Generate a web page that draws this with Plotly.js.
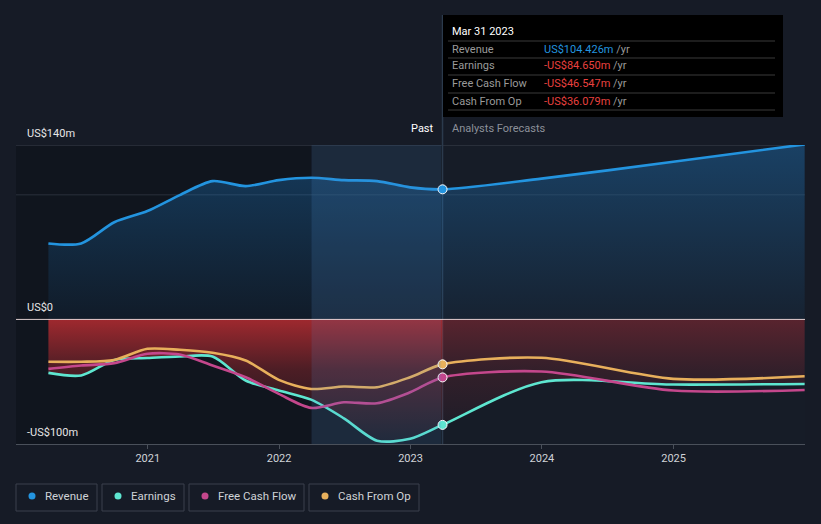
<!DOCTYPE html>
<html><head><meta charset="utf-8">
<script src="https://cdn.plot.ly/plotly-3.0.1.min.js"></script>
<style>html,body{margin:0;padding:0;background:#151a25;}#chart{width:821px;height:524px;}</style>
</head><body><div id="chart"></div><script>
// ---- data (US$ m) ----
const pastDates = ['2020-03-31','2020-06-30','2020-09-30','2020-12-31','2021-03-31','2021-06-30','2021-09-30','2021-12-31','2022-03-31','2022-06-30','2022-09-30','2022-12-31','2023-03-31'];
const revenuePast  = [61, 61, 78, 87, 99.8, 111, 107, 111.8, 113.7, 111.8, 111, 106, 104.426];
const earningsPast = [-42.9, -45, -32.5, -31, -29.8, -29.8, -49, -57, -64.4, -79.4, -97.3, -95.8, -84.65];
const fcfPast      = [-39.7, -37, -35.1, -27.6, -28.2, -37, -46.4, -59.8, -71, -66.5, -67.3, -58.5, -46.547];
const cfoPast      = [-34, -34, -32.5, -23.6, -24.4, -26.8, -33, -48.5, -55.8, -53.9, -54.4, -46.4, -36.079];
const forecastDates = ['2023-03-31','2023-12-31','2024-12-31','2025-12-31'];
const revenueFc  = [104.426, 113, 126.5, 140.5];
const earningsFc = [-84.65, -50.4, -52.3, -51.8];
const fcfFc      = [-46.547, -41.8, -57.1, -56.6];
const cfoFc      = [-36.079, -30.8, -47.7, -45.6];
const seriesNames = ['Revenue','Earnings','Free Cash Flow','Cash From Op'];
const seriesColors = ['#2394df','#5ee6d0','#c4478c','#e8b05c'];
const tooltipDate = 'Mar 31 2023';
const tooltipValues = ['US$104.426m','-US$84.650m','-US$46.547m','-US$36.079m'];
const yTickLabels = [['US$140m',140],['US$0',0],['-US$100m',-100]];
const xTickVals = ['2021-01-01','2022-01-01','2023-01-01','2024-01-01','2025-01-01'];
const xTickText = ['2021','2022','2023','2024','2025'];

// ---- helpers (pixel -> paper) ----
const L=16, R=805, T=145, B=444;
const P = x => (x-L)/(R-L);
const Q = y => (B-y)/(B-T);

const allDates = pastDates.concat(forecastDates.slice(1));
const full = (a,b) => a.concat(b.slice(1));
const SM = 0.8;
const traces = [];
// revenue fill
traces.push({x:allDates, y:full(revenuePast,revenueFc), type:'scatter', mode:'lines', line:{width:0, shape:'spline', smoothing:SM},
  fill:'tozeroy', fillgradient:{type:'vertical', start:0, stop:140, colorscale:[[0,'rgba(33,150,243,0.05)'],[1,'rgba(33,150,243,0.30)']]}, hoverinfo:'skip', showlegend:false});
// earnings fill past
traces.push({x:pastDates, y:earningsPast, type:'scatter', mode:'lines', line:{width:0, shape:'spline', smoothing:SM},
  fill:'tozeroy', fillgradient:{type:'vertical', start:-100, stop:0, colorscale:[[0,'rgba(190,45,50,0.02)'],[0.6,'rgba(190,45,50,0.35)'],[1,'rgba(190,45,50,0.82)']]}, hoverinfo:'skip', showlegend:false});
// earnings fill forecast
traces.push({x:forecastDates, y:earningsFc, type:'scatter', mode:'lines', line:{width:0, shape:'spline', smoothing:SM},
  fill:'tozeroy', fillgradient:{type:'vertical', start:-100, stop:0, colorscale:[[0,'rgba(170,45,55,0.02)'],[0.6,'rgba(170,45,55,0.2)'],[1,'rgba(170,45,55,0.45)']]}, hoverinfo:'skip', showlegend:false});
const lineData = [[revenuePast,revenueFc],[earningsPast,earningsFc],[fcfPast,fcfFc],[cfoPast,cfoFc]];
[1,2,3,0].forEach(i=>{
  traces.push({x:allDates, y:full(lineData[i][0],lineData[i][1]), type:'scatter', mode:'lines',
    line:{color:seriesColors[i], width:2.6, shape:'spline', smoothing:SM}, hoverinfo:'skip', showlegend:false});
});
// markers at last reported date
traces.push({x:[0,1,2,3].map(()=>pastDates[pastDates.length-1]), y:lineData.map(d=>d[0][d[0].length-1]), type:'scatter', mode:'markers',
  marker:{size:9, color:seriesColors, line:{color:'#ffffff', width:1}}, hoverinfo:'skip', showlegend:false});

const shapes = [];
// darker past area
shapes.push({type:'rect', xref:'x', yref:'paper', x0:'2020-01-01', x1:'2022-04-01', y0:0, y1:1, fillcolor:'rgba(5,8,14,0.35)', line:{width:0}, layer:'below'});
// grid lines
shapes.push({type:'line', xref:'paper', yref:'y', x0:0, x1:1, y0:140, y1:140, line:{color:'#3c434e', width:1}, layer:'below'});
shapes.push({type:'line', xref:'paper', yref:'y', x0:0, x1:1, y0:100, y1:100, line:{color:'#2a313c', width:1}, layer:'below'});
// vertical line at last reported
shapes.push({type:'line', xref:'x', yref:'paper', x0:'2023-03-31', x1:'2023-03-31', y0:0, y1:Q(15), line:{color:'#2b3a4c', width:1.5}, layer:'below'});
// highlight area
shapes.push({type:'rect', xref:'x', yref:'paper', x0:'2022-04-01', x1:'2023-03-27', y0:0, y1:1, fillcolor:'rgba(70,140,210,0.13)', line:{width:0}, layer:'above'});
// zero line
shapes.push({type:'line', xref:'paper', yref:'y', x0:0, x1:1, y0:0, y1:0, line:{color:'rgba(255,235,235,0.85)', width:1}, layer:'above'});
// tooltip box
shapes.push({type:'rect', xref:'paper', yref:'paper', x0:P(443), x1:P(783), y0:Q(117), y1:Q(15), fillcolor:'#000000', line:{width:0}, layer:'above'});
[41,58,75,93,110].forEach(y=>{
  shapes.push({type:'line', xref:'paper', yref:'paper', x0:P(448), x1:P(775), y0:Q(y), y1:Q(y), line:{color:'#3a3a3a', width:1}, layer:'above'});
});
// legend boxes
const legBoxes = [[16,97],[102,184],[189,304],[309,419]];
legBoxes.forEach((b,i)=>{
  shapes.push({type:'rect', xref:'paper', yref:'paper', x0:P(b[0]), x1:P(b[1]), y0:Q(511), y1:Q(484), fillcolor:'rgba(0,0,0,0)', line:{color:'#3a414c', width:1}, layer:'above'});
  const cx=b[0]+16, cy=496;
  shapes.push({type:'circle', xref:'paper', yref:'paper', x0:P(cx-3.5), x1:P(cx+3.5), y0:Q(cy+3.5), y1:Q(cy-3.5), fillcolor:seriesColors[i], line:{width:0}, layer:'above'});
});

const F = 'Roboto, "Open Sans", sans-serif';
const ann = [];
yTickLabels.forEach(t=>{
  ann.push({xref:'paper', yref:'y', x:P(25), y:t[1], yshift:12, text:t[0], showarrow:false, xanchor:'left', yanchor:'middle', font:{family:F, size:11, color:'#e6e6e6'}});
});
ann.push({xref:'paper', yref:'paper', x:P(436), y:Q(128), text:'Past', showarrow:false, xanchor:'right', yanchor:'middle', font:{family:F, size:11, color:'#ffffff'}});
ann.push({xref:'paper', yref:'paper', x:P(450), y:Q(128), text:'Analysts Forecasts', showarrow:false, xanchor:'left', yanchor:'middle', font:{family:F, size:11, color:'#8c9099'}});
ann.push({xref:'paper', yref:'paper', x:P(450), y:Q(31), text:tooltipDate, showarrow:false, xanchor:'left', yanchor:'middle', font:{family:F, size:11, color:'#ffffff'}});
const rowY = [49,66,84,101];
seriesNames.forEach((n,i)=>{
  ann.push({xref:'paper', yref:'paper', x:P(450), y:Q(rowY[i]), text:n, showarrow:false, xanchor:'left', yanchor:'middle', font:{family:F, size:11, color:'#9a9a9a'}});
  const vc = i===0 ? '#2394df' : '#e8403f';
  ann.push({xref:'paper', yref:'paper', x:P(542), y:Q(rowY[i]), text:'<span style="color:'+vc+'">'+tooltipValues[i]+'</span> /yr', showarrow:false, xanchor:'left', yanchor:'middle', font:{family:F, size:11, color:'#9a9a9a'}});
});
legBoxes.forEach((b,i)=>{
  ann.push({xref:'paper', yref:'paper', x:P(b[0]+27), y:Q(496), text:seriesNames[i], showarrow:false, xanchor:'left', yanchor:'middle', font:{family:F, size:11.5, color:'#cfd2d6'}});
});

const layout = {
  width:821, height:524,
  margin:{l:L, r:821-R, t:T, b:524-B},
  paper_bgcolor:'#161b26', plot_bgcolor:'#161c27',
  showlegend:false,
  xaxis:{type:'date', range:['2020-01-01','2026-01-01'], tickvals:xTickVals, ticktext:xTickText, showgrid:false, zeroline:false,
    showline:true, linecolor:'#4a505a', linewidth:1, ticks:'outside', ticklen:4, tickcolor:'#4a505a',
    tickfont:{family:F, size:11, color:'#d0d3d8'}, fixedrange:true},
  yaxis:{range:[-100,140], showgrid:false, zeroline:false, showticklabels:false, showline:false, fixedrange:true},
  shapes:shapes, annotations:ann,
  font:{family:F}
};
Plotly.newPlot('chart', traces, layout, {displayModeBar:false, staticPlot:true});
</script></body></html>
